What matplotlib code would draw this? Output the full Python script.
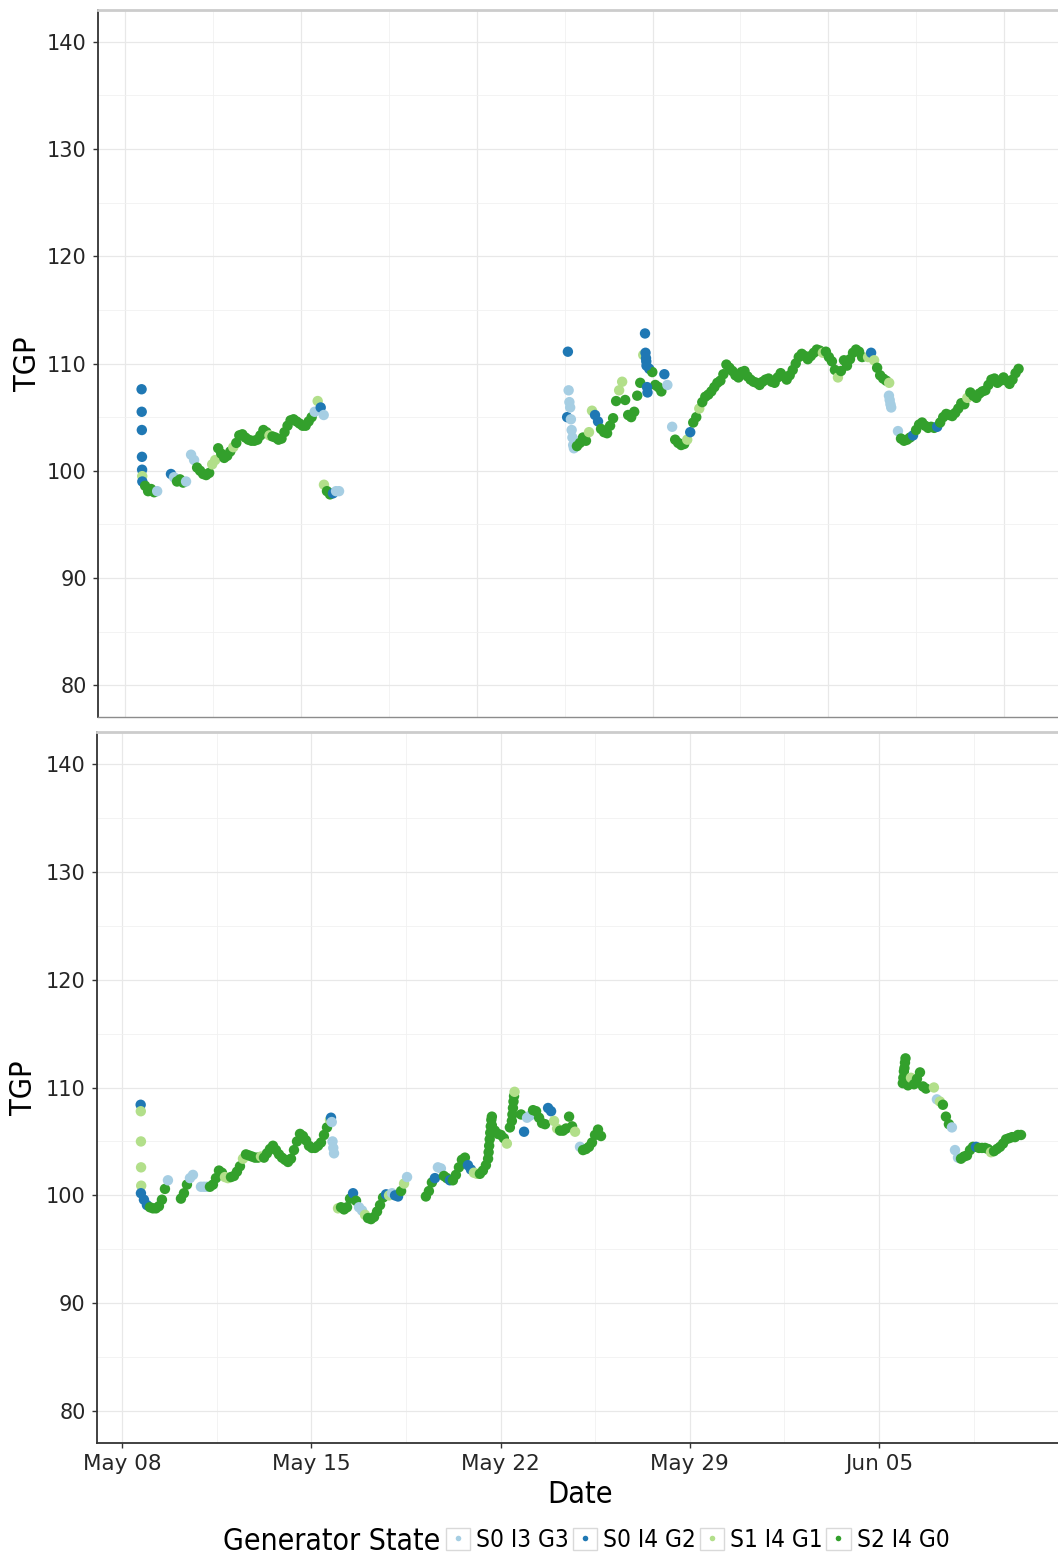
import numpy as np
import matplotlib
matplotlib.use("Agg")
import matplotlib.pyplot as plt
from matplotlib.patches import Rectangle
from matplotlib.lines import Line2D
from matplotlib.legend_handler import HandlerTuple
from matplotlib.font_manager import FontProperties

# generator states (index used in the state strings below)
state_labels = ["S0 I3 G3", "S0 I4 G2", "S1 I4 G1", "S2 I4 G0"]
state_colors = ["#a6cee3", "#1f78b4", "#b2df8a", "#33a02c"]

start_date = np.datetime64("2017-05-08T00:00")
tick_days = [0, 7, 14, 21, 28, 35]
tick_labels = ["May 08", "May 15", "May 22", "May 29", "Jun 05", "Jun 12"]

# ---- upper series: TGP readings, days after May 08 ----
top_a_tgp = [107.6, 105.5, 103.8, 101.3, 100.1, 99.5, 99.0]
top_a_state = "1111121"
top_b_tgp = [98.6, 98.1, 98.3, 98.0, 98.1]
top_b_state = "33330"
top_c_tgp = [99.7, 99.4, 99.0, 99.2, 98.9, 99.0]
top_c_state = "103330"
top_d_tgp = [101.5, 101.0, 100.3, 100.0, 99.7, 99.6, 99.8, 100.6, 101.0, 102.1,
             101.6, 101.2, 101.4, 101.8, 102.2, 102.6, 103.3, 103.4, 103.1, 102.9,
             102.8, 102.8, 102.9, 103.3, 103.8, 103.6, 103.3, 103.2, 103.1, 102.9,
             103.0, 103.6, 104.2, 104.7, 104.8, 104.6, 104.4, 104.2, 104.2, 104.6,
             105.0, 105.5, 106.5, 105.9, 105.2]
top_d_state = "00" + "33333" + "22" + "33333" + "2" + "3" * 11 + "2" + "3" * 14 + "0210"
top_e_tgp = [98.7, 98.1, 97.8, 97.9, 98.1, 98.1]
top_e_state = "233100"
top_f_tgp = [105.0, 111.1, 107.5, 106.4, 105.9, 104.8, 103.8, 103.1, 102.4, 102.1]
top_f_state = "11" + "0" * 8
top_g_tgp = [102.3, 102.6, 103.1, 102.8, 103.6, 105.6, 105.2, 104.6, 103.9, 103.6,
             103.5, 104.2, 104.9, 106.5, 107.5, 108.3, 106.6, 105.2, 105.0, 105.5,
             107.0, 108.2, 110.8, 110.2, 109.5, 109.2, 108.0, 107.8, 107.4, 109.0,
             108.0]
top_g_state = "3333" + "22" + "11" + "333333" + "22" + "333333" + "2" + "11" + "3333" + "1" + "0"
top_h_tgp = [112.8, 111.0, 110.5, 109.8, 107.8, 107.3]
top_h_state = "111111"
top_i_tgp = [104.1, 102.9, 102.6, 102.4, 102.5, 102.9, 103.6, 104.5, 105.0, 105.8,
             106.4, 106.9, 107.1, 107.4, 107.8, 108.2, 108.4, 109.0, 109.9, 109.6,
             109.3, 108.9, 108.7, 109.2, 109.3, 108.8, 108.5, 108.3, 108.2, 108.0,
             108.3, 108.5, 108.6, 108.3, 108.2, 108.7, 109.1, 108.8, 108.5, 108.9,
             109.4, 110.0, 110.6, 110.9, 110.7, 110.4, 110.7, 111.0, 111.3, 111.2,
             111.0, 111.1, 110.6, 110.2, 109.4, 108.7, 109.3, 110.3, 109.8, 110.4,
             111.0, 111.3, 111.1, 110.6]
top_i_state = "0" + "3333" + "2" + "1" + "33" + "2" + "3" * 40 + "2" + "3333" + "2" + "3" * 8
top_j_tgp = [110.6, 111.0, 110.3, 109.6, 108.9, 108.6, 108.4, 108.2]
top_j_state = "21233332"
top_k_tgp = [107.0, 106.6, 106.2, 105.9]
top_k_state = "0000"
top_l_tgp = [103.7, 103.0, 102.8, 102.9, 103.1, 103.3, 103.8, 104.3, 104.5, 104.2,
             104.0, 104.1, 104.0, 104.1, 104.5, 105.0, 105.3, 105.2, 105.1, 105.4,
             105.8, 106.3, 106.2, 106.8, 107.3, 107.0, 106.8, 107.2, 107.4, 107.5,
             108.0, 108.5, 108.6, 108.2, 108.4, 108.7, 108.4, 108.1, 108.5, 109.1,
             109.5]
top_l_state = "0" + "3333" + "1" + "3" * 7 + "1" + "3" * 9 + "2" + "3" * 17

# (first day, days between readings, readings, states)
top_runs = [
    (0.66, 0.005, top_a_tgp, top_a_state),
    (0.80, 0.12, top_b_tgp, top_b_state),
    (1.83, 0.12, top_c_tgp, top_c_state),
    (2.63, 0.12, top_d_tgp, top_d_state),
    (7.92, 0.12, top_e_tgp, top_e_state),
    (17.60, 0.03, top_f_tgp, top_f_state),
    (17.99, 0.12, top_g_tgp, top_g_state),
    (20.70, 0.02, top_h_tgp, top_h_state),
    (21.78, 0.12, top_i_tgp, top_i_state),
    (29.58, 0.12, top_j_tgp, top_j_state),
    (30.41, 0.03, top_k_tgp, top_k_state),
    (30.77, 0.12, top_l_tgp, top_l_state),
]

# ---- lower series ----
bot_a_tgp = [108.4, 107.8, 105.0, 102.6, 100.9]
bot_a_state = "12222"
bot_b_tgp = [100.2, 99.6, 99.1, 98.9, 98.8, 98.8, 99.0, 99.6, 100.6, 101.4]
bot_b_state = "111" + "333333" + "0"
bot_c_tgp = [99.7, 100.2, 101.0, 101.6, 101.9]
bot_c_state = "33300"
bot_d_tgp = [100.8, 100.8, 100.8, 100.8, 101.0, 101.6, 102.3, 102.1, 101.7, 101.6,
             101.7, 101.8, 102.2, 102.7, 103.4, 103.8, 103.7, 103.6, 103.5, 103.5,
             103.6, 103.5, 103.9, 104.3, 104.6, 104.2, 103.8, 103.5, 103.3, 103.1,
             103.4, 104.2, 105.0, 105.7, 105.5, 105.1, 104.6, 104.4, 104.4, 104.6,
             104.9, 105.6, 106.3, 107.0]
bot_d_state = "000" + "33333" + "22" + "3333" + "2" + "33333" + "2" + "3" * 22 + "2"
bot_e_tgp = [107.2, 106.8, 105.0, 104.4, 103.9]
bot_e_state = "10000"
bot_f_tgp = [98.8, 98.9, 98.7, 98.9, 99.7, 100.2, 99.5, 98.9, 98.6, 98.2,
             97.9, 97.8, 98.0, 98.5, 99.1, 99.8, 100.1, 100.0, 100.2, 100.0,
             99.9, 100.4, 101.1, 101.7]
bot_f_state = "2" + "3333" + "1" + "3" + "00" + "2" + "333333" + "1" + "2" + "0" + "11" + "3" + "2" + "0"
bot_g_tgp = [99.9, 100.4, 101.2, 101.6, 102.6, 102.5, 101.8, 101.6, 101.4, 101.4,
             101.9, 102.6, 103.3, 103.5, 102.8, 102.4, 102.1, 102.0, 102.0, 102.3,
             102.8]
bot_g_state = "333" + "1" + "00" + "33" + "1" + "33333" + "11" + "22" + "333"
bot_h_tgp = [103.4, 104.0, 104.6, 105.2, 105.8, 106.4, 107.0, 107.3]
bot_h_state = "33333333"
bot_i_tgp = [106.5, 106.0, 105.7, 105.6, 105.3, 104.8, 106.3]
bot_i_state = "3333323"
bot_j_tgp = [106.9, 107.5, 108.1, 108.7, 109.2, 109.6]
bot_j_state = "333332"
bot_k_tgp = [107.5, 105.9, 107.2, 107.4, 107.9, 107.8, 107.2, 106.7, 106.6, 108.1,
             107.8, 106.9, 106.2, 106.0, 106.0, 106.2, 107.3, 106.4, 105.9]
bot_k_state = "3" + "1" + "00" + "33333" + "11" + "22" + "33333" + "2"
bot_l_tgp = [104.5, 104.2, 104.3, 104.5, 104.9, 105.6, 106.1, 105.5]
bot_l_state = "03333333"
bot_m_tgp = [110.4, 110.9, 111.5, 111.8, 112.3, 112.7]
bot_m_state = "333333"
bot_n_tgp = [110.6, 110.2, 110.9, 110.3, 110.8, 111.4, 110.1, 109.9]
bot_n_state = "33233333"
bot_o_tgp = [110.0, 108.9, 108.7, 108.4, 107.3, 106.6, 106.3]
bot_o_state = "2023330"
bot_p_tgp = [104.2, 103.5, 103.4, 103.6, 103.7, 104.2, 104.5, 104.5, 104.4, 104.4,
             104.4, 104.3, 104.0, 104.1, 104.3, 104.5, 104.8, 105.2, 105.3, 105.4,
             105.4, 105.6, 105.6]
bot_p_state = "00" + "33333" + "1" + "3333" + "2" + "3" * 10

bot_runs = [
    (0.69, 0.005, bot_a_tgp, bot_a_state),
    (0.70, 0.111, bot_b_tgp, bot_b_state),
    (2.18, 0.111, bot_c_tgp, bot_c_state),
    (2.92, 0.111, bot_d_tgp, bot_d_state),
    (7.73, 0.028, bot_e_tgp, bot_e_state),
    (7.99, 0.111, bot_f_tgp, bot_f_state),
    (11.24, 0.111, bot_g_tgp, bot_g_state),
    (13.54, 0.02, bot_h_tgp, bot_h_state),
    (13.68, 0.111, bot_i_tgp, bot_i_state),
    (14.42, 0.02, bot_j_tgp, bot_j_state),
    (14.76, 0.111, bot_k_tgp, bot_k_state),
    (16.94, 0.111, bot_l_tgp, bot_l_state),
    (28.88, 0.02, bot_m_tgp, bot_m_state),
    (28.96, 0.111, bot_n_tgp, bot_n_state),
    (30.03, 0.111, bot_o_tgp, bot_o_state),
    (30.81, 0.111, bot_p_tgp, bot_p_state),
]


def to_time(days):
    return start_date + (np.asarray(days) * 86400).astype("timedelta64[s]")


def collect(runs):
    days, tgp, state = [], [], []
    for t0, dt, vals, st in runs:
        assert len(vals) == len(st)
        days += [t0 + i * dt for i in range(len(vals))]
        tgp += vals
        state += [int(c) for c in st]
    return to_time(days), np.array(tgp), np.array(state)


title_font = dict(family="DejaVu Sans", stretch="condensed")
dark = "#262626"

fig = plt.figure(figsize=(10.58, 15.56), dpi=100)
ax_top = fig.add_axes([98 / 1058, 1 - 717 / 1556, 960 / 1058, 707 / 1556])
ax_bot = fig.add_axes([97 / 1058, 1 - 1443 / 1556, 961 / 1058, 711 / 1556])

for ax, runs, xlim, show_x in [(ax_top, top_runs, (-1.075, 37.14), False),
                               (ax_bot, bot_runs, (-0.925, 34.62), True)]:
    t, v, s = collect(runs)
    ax.scatter(t, v, c=[state_colors[k] for k in s], s=56, linewidths=0, zorder=3)

    ax.set_ylim(77.05, 142.95)
    ax.set_yticks([80, 90, 100, 110, 120, 130, 140])
    ax.set_yticks([85, 95, 105, 115, 125, 135], minor=True)
    ax.set_xticks(to_time(tick_days))
    ax.set_xticks(to_time([d + 3.5 for d in tick_days]), minor=True)
    ax.set_xticklabels(tick_labels if show_x else [])
    ax.set_xlim(to_time(xlim[0]), to_time(xlim[1]))

    ax.grid(which="major", color="#e8e8e8", linewidth=0.9)
    ax.grid(which="minor", color="#f1f1f1", linewidth=0.6)
    ax.set_axisbelow(True)

    ax.tick_params(axis="y", which="major", length=3.6, width=1, color="#333333",
                   labelsize=15, labelcolor=dark, pad=4.5)
    ax.tick_params(axis="x", which="major", length=3.6 if show_x else 0, width=1,
                   color="#333333", labelsize=15.5, labelcolor=dark, pad=4)
    ax.tick_params(which="minor", length=0)

    ax.spines["right"].set_visible(False)
    ax.spines["top"].set_color("#cccccc")
    ax.spines["top"].set_linewidth(2.0)
    ax.spines["left"].set_color("#333333")
    ax.spines["left"].set_linewidth(1.3)
    ax.spines["bottom"].set_color("#333333" if show_x else "#8c8c8c")
    ax.spines["bottom"].set_linewidth(1.3 if show_x else 1.0)

fig.text(27 / 1058, 1 - 364 / 1556, "TGP", rotation=90, ha="center", va="center",
         fontsize=22, color="black", **title_font)
fig.text(24 / 1058, 1 - 1088 / 1556, "TGP", rotation=90, ha="center", va="center",
         fontsize=22, color="black", **title_font)
fig.text(580 / 1058, 1 - 1503 / 1556, "Date", ha="center", va="baseline",
         fontsize=22, color="black", **title_font)

# legend: title on the left, keys in one row
fig.text(223 / 1058, 1 - 1550 / 1556, "Generator State", ha="left", va="baseline",
         fontsize=21.6, color="black", **title_font)
handles = []
for c in state_colors:
    box = Rectangle((0, 0), 1, 1, facecolor="white", edgecolor="#d9d9d9", linewidth=1.0)
    dot = Line2D([], [], linestyle="none", marker="o", markersize=4,
                 markerfacecolor=c, markeredgewidth=0)
    handles.append((box, dot))
fig.legend(handles, state_labels, handler_map={tuple: HandlerTuple(ndivide=1)},
           loc="center left", bbox_to_anchor=(446 / 1058, 1 - 1540 / 1556),
           ncol=4, frameon=False, borderpad=0, borderaxespad=0,
           handlelength=1.0, handleheight=1.05, handletextpad=0.25,
           columnspacing=0.15, prop=FontProperties(size=17.5, **title_font))

fig.savefig("out.png", dpi=100)
